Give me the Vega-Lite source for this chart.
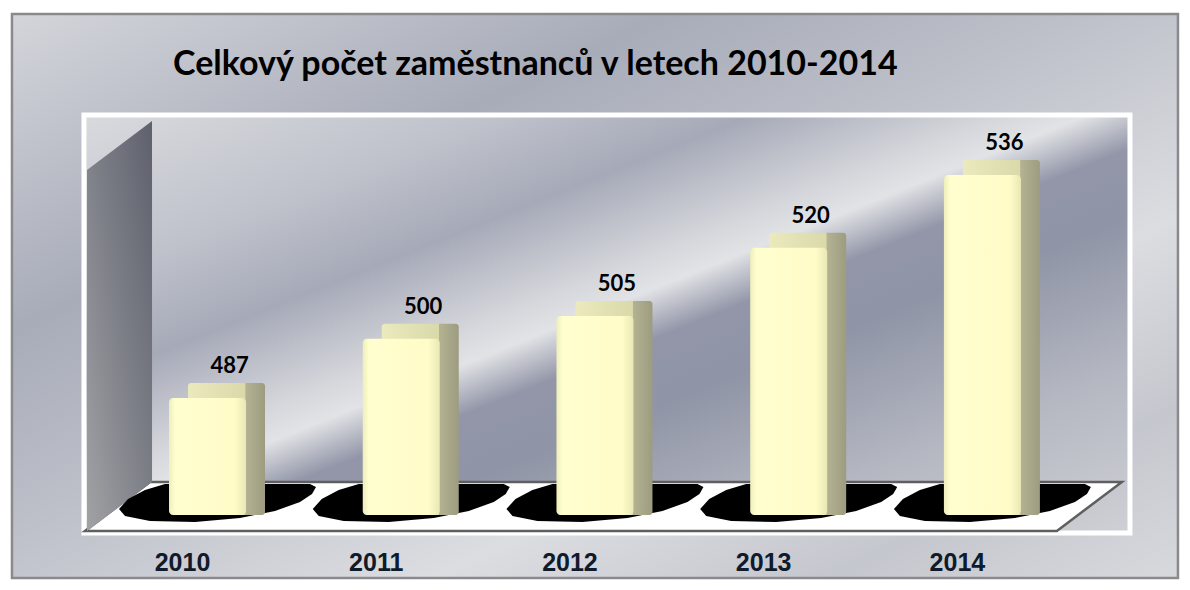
{
  "$schema": "https://vega.github.io/schema/vega-lite/v6.json",
  "width": 1046,
  "height": 418,
  "autosize": {"type": "none"},
  "padding": {"left": 84, "top": 115, "right": 60, "bottom": 57},
  "background": "#ffffff",
  "title": {
    "text": "Celkový počet zaměstnanců v letech 2010-2014",
    "anchor": "start",
    "frame": "group",
    "dx": 89,
    "offset": 0,
    "dy": 100,
    "baseline": "alphabetic",
    "font": "Lato",
    "fontSize": 34,
    "fontWeight": "bold",
    "color": "#000000",
    "zindex": 1
  },
  "data": {
    "values": [
      {"rok": "2010", "pocet": 487},
      {"rok": "2011", "pocet": 500},
      {"rok": "2012", "pocet": 505},
      {"rok": "2013", "pocet": 520},
      {"rok": "2014", "pocet": 536}
    ]
  },
  "layer": [
    {
      "data": {"values": [{}]},
      "mark": {
        "type": "point",
        "shape": "M-1,-0.4837H1V0.4837H-1Z",
        "size": 1359556,
        "fill": {"gradient": "linear", "x1": 0, "y1": 0, "x2": 1, "y2": 1, "stops": [{"offset": 0, "color": "#d3d5da"}, {"offset": 0.28, "color": "#a8acb9"}, {"offset": 0.45, "color": "#bcbfc8"}, {"offset": 0.68, "color": "#dcdde1"}, {"offset": 0.85, "color": "#c5c7ce"}, {"offset": 1, "color": "#d8d9dd"}]},
        "stroke": "#8a8a8c",
        "strokeWidth": 2.5,
        "opacity": 1,
        "yOffset": -219
      },
      "encoding": {
        "x": {"datum": "2012", "type": "ordinal", "scale": {"align": 0.438}, "axis": {"zindex": 1, "title": null}},
        "y": {"datum": 461.3, "type": "quantitative", "scale": {"domain": [457.34, 549.19], "zero": false, "nice": false}, "axis": null}
      }
    },
    {
      "data": {"values": [{}]},
      "mark": {
        "type": "point",
        "shape": "M-1,-0.3996H1V0.3996H-1Z",
        "size": 1094116,
        "fill": {"gradient": "linear", "x1": 0, "y1": 0, "x2": 1, "y2": 1, "stops": [{"offset": 0, "color": "#d9dade"}, {"offset": 0.2, "color": "#bfc2cb"}, {"offset": 0.32, "color": "#a6aab8"}, {"offset": 0.44, "color": "#d6d7dc"}, {"offset": 0.48, "color": "#e2e3e6"}, {"offset": 0.54, "color": "#9296a8"}, {"offset": 0.62, "color": "#8f94a6"}, {"offset": 0.8, "color": "#b4b7c1"}, {"offset": 1, "color": "#cfd0d5"}]},
        "stroke": "#ffffff",
        "strokeWidth": 5,
        "opacity": 1,
        "xOffset": 12,
        "yOffset": -191
      },
      "encoding": {
        "x": {"datum": "2012", "type": "ordinal", "scale": {"align": 0.438}, "axis": {"zindex": 1, "title": null}},
        "y": {"datum": 461.3, "type": "quantitative", "scale": {"domain": [457.34, 549.19], "zero": false, "nice": false}, "axis": null}
      }
    },
    {
      "data": {"values": [{}]},
      "mark": {
        "type": "point",
        "shape": "M-0.999,0.047L0.870,0.047L0.995,-0.047L-0.874,-0.047Z",
        "size": 1081600,
        "fill": "#ffffff",
        "stroke": "#5f5f5f",
        "strokeWidth": 2.5,
        "opacity": 1,
        "xOffset": 9.5,
        "yOffset": -8.5
      },
      "encoding": {
        "x": {"datum": "2012", "type": "ordinal", "scale": {"align": 0.438}, "axis": {"zindex": 1, "title": null}},
        "y": {"datum": 461.3, "type": "quantitative", "scale": {"domain": [457.34, 549.19], "zero": false, "nice": false}, "axis": null}
      }
    },
    {
      "data": {"values": [{}]},
      "mark": {
        "type": "point",
        "shape": "M-0.1432,-0.7727L0.1523,-0.9955L0.1523,0.6455L-0.1432,0.8682Z",
        "size": 193600,
        "fill": {"gradient": "linear", "x1": 0, "y1": 1, "x2": 1, "y2": 0, "stops": [{"offset": 0, "color": "#a2a2a5"}, {"offset": 0.5, "color": "#7e8088"}, {"offset": 1, "color": "#5e616d"}]},
        "strokeWidth": 0,
        "opacity": 1,
        "xOffset": -89,
        "yOffset": -175
      },
      "encoding": {
        "x": {"datum": "2010", "type": "ordinal", "scale": {"align": 0.438}, "axis": {"zindex": 1, "title": null}},
        "y": {"datum": 461.3, "type": "quantitative", "scale": {"domain": [457.34, 549.19], "zero": false, "nice": false}, "axis": null}
      }
    },
    {
      "mark": {
        "type": "point",
        "shape": "M-0.52,-0.19L0.93,-0.19L0.99,-0.16L0.95,-0.09L0.83,-0.01L0.58,0.08L0.23,0.15L-0.22,0.19L-0.67,0.18L-0.92,0.13L-0.98,0.06L-0.89,-0.04L-0.72,-0.13Z",
        "size": 40000,
        "fill": "#000000",
        "strokeWidth": 0,
        "opacity": 1,
        "xOffset": 9.5,
        "yOffset": -12
      },
      "encoding": {
        "x": {"field": "rok", "type": "ordinal", "scale": {"align": 0.438}, "axis": {"zindex": 1, "title": null}},
        "y": {"datum": 461.3, "type": "quantitative", "scale": {"domain": [457.34, 549.19], "zero": false, "nice": false}, "axis": null}
      }
    },
    {
      "mark": {
        "type": "bar",
        "xOffset": 19,
        "yOffset": -15,
        "cornerRadius": 3,
        "fill": {"gradient": "linear", "x1": 0, "y1": 0, "x2": 1, "y2": 0, "stops": [{"offset": 0, "color": "#ebeabd"}, {"offset": 0.74, "color": "#dad9aa"}, {"offset": 0.75, "color": "#b3b292"}, {"offset": 1, "color": "#9d9c80"}]}
      },
      "encoding": {
        "x": {"field": "rok", "type": "ordinal", "scale": {"align": 0.438}, "axis": {"zindex": 1, "title": null}},
        "y": {"field": "pocet", "type": "quantitative", "scale": {"domain": [457.34, 549.19], "zero": false, "nice": false}, "axis": null},
        "y2": {"datum": 461.3}
      }
    },
    {
      "mark": {
        "type": "bar",
        "cornerRadius": 4,
        "fill": {"gradient": "linear", "x1": 0, "y1": 0, "x2": 1, "y2": 0, "stops": [{"offset": 0, "color": "#eeedbb"}, {"offset": 0.08, "color": "#fffecf"}, {"offset": 0.85, "color": "#fffcc8"}, {"offset": 1, "color": "#e9e8b4"}]}
      },
      "encoding": {
        "x": {"field": "rok", "type": "ordinal", "scale": {"align": 0.438}, "axis": {"zindex": 1, "title": null}},
        "y": {"field": "pocet", "type": "quantitative", "scale": {"domain": [457.34, 549.19], "zero": false, "nice": false}, "axis": null},
        "y2": {"datum": 461.3}
      }
    },
    {
      "mark": {
        "type": "text",
        "dx": 22,
        "dy": -25,
        "baseline": "alphabetic",
        "align": "center",
        "font": "Lato",
        "fontSize": 22,
        "fontWeight": "bold",
        "color": "#000000"
      },
      "encoding": {
        "x": {"field": "rok", "type": "ordinal", "scale": {"align": 0.438}, "axis": {"zindex": 1, "title": null}},
        "y": {"field": "pocet", "type": "quantitative", "scale": {"domain": [457.34, 549.19], "zero": false, "nice": false}, "axis": null},
        "text": {"field": "pocet", "type": "quantitative"}
      }
    }
  ],
  "resolve": {"scale": {"x": "shared", "y": "shared"}},
  "config": {
    "view": {"fill": null, "stroke": null},
    "scale": {"bandPaddingInner": 0.6025, "bandPaddingOuter": 0.501},
    "axisX": {
      "domain": false,
      "ticks": false,
      "grid": false,
      "labelAngle": 0,
      "labelFont": "Liberation Sans",
      "labelFontWeight": "bold",
      "labelFontSize": 25,
      "labelColor": "#0f1a2b",
      "labelPadding": 17,
      "labelOffset": -25
    }
  }
}
